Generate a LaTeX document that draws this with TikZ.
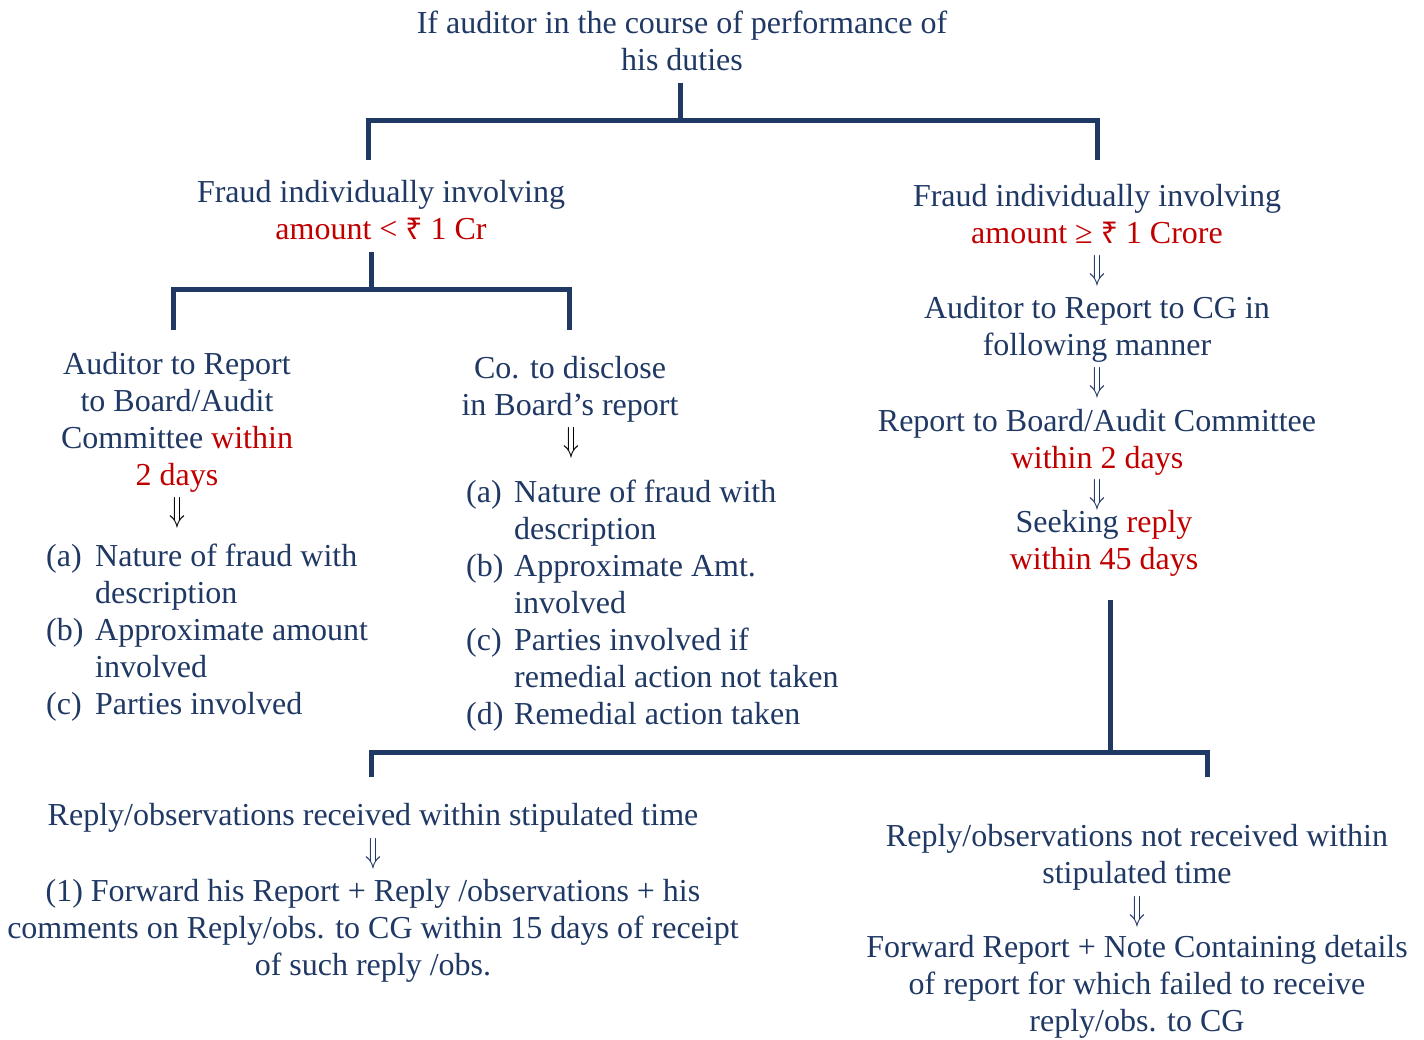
\documentclass[tikz,border=0pt]{standalone}
\usepackage{fontspec}
\setmainfont{Liberation Serif}
\newfontfamily\rupeefont{Noto Sans}
\usepackage{graphicx}
\usepackage{xcolor}
\definecolor{FrNavy}{HTML}{1F3864}
\definecolor{FrRed}{HTML}{C00000}
\newcommand{\redtxt}[1]{\textcolor{FrRed}{#1}}
\newcommand{\rupee}{{\rupeefont\fontsize{30}{37}\selectfont ₹}}
\newcommand{\thendown}{\smash{\raisebox{-11pt}{\scalebox{1.05}[1.4]{$\Downarrow$}}}}
\tikzset{
  textblock/.style={align=center,inner sep=0pt,text=FrNavy,font=\fontsize{32}{37}\selectfont},
  listblock/.style={anchor=north west,inner sep=0pt,text=FrNavy,font=\fontsize{32}{37}\selectfont},
  downsym/.style={inner sep=0pt,text height=10pt,text depth=10pt,text=FrNavy,font=\fontsize{32}{37}\selectfont},
  branch/.style={line width=5pt,draw=FrNavy}
}

\begin{document}
\begin{tikzpicture}[x=1pt,y=-1pt]
\useasboundingbox (0,0) rectangle (1424,1039);
% top level
\node[textblock] (title) at (682,41) {If auditor in the course of performance of\\his duties};
\node[textblock] (fraudlow) at (381,210) {Fraud individually involving\\\redtxt{amount < \rupee\ 1 Cr}};
\node[textblock] (fraudhigh) at (1097,214) {Fraud individually involving\\\redtxt{amount ≥ \rupee\ 1 Crore}};
% right column
\node[downsym] (dr1) at (1097,268) {\thendown};
\node[textblock] (cgreport) at (1097,329) {Auditor to Report to CG in\\following manner};
\node[downsym] (dr2) at (1097,380) {\thendown};
\node[textblock] (boardrep) at (1097,442) {Report to Board/Audit Committee\\\redtxt{within 2 days}};
\node[downsym] (dr3) at (1097,492) {\thendown};
\node[textblock] (seekreply) at (1104,543) {Seeking \redtxt{reply}\\\redtxt{within 45 days}};
% left branch
\node[textblock] (auditrep) at (177,422) {Auditor to Report\\to Board/Audit\\Committee \redtxt{within}\\\redtxt{2 days}};
\node[downsym,text=black] (dl1) at (177,510) {\thendown};
\node[listblock] (auditlist) at (46,540) {\begin{tabular}{@{}p{49pt}@{}l@{}}
(a) & Nature of fraud with\\
    & description\\
(b) & Approximate amount\\
    & involved\\
(c) & Parties involved
\end{tabular}};
\node[textblock] (disclose) at (570,389) {Co. to disclose\\in Board’s report};
\node[downsym,text=black] (dl2) at (571,440) {\thendown};
\node[listblock] (discllist) at (466,476) {\begin{tabular}{@{}p{48pt}@{}l@{}}
(a) & Nature of fraud with\\
    & description\\
(b) & Approximate Amt.\\
    & involved\\
(c) & Parties involved if\\
    & remedial action not taken\\
(d) & Remedial action taken
\end{tabular}};
% bottom
\node[textblock] (recvd) at (373,818) {Reply/observations received within stipulated time};
\node[downsym] (db1) at (373,851) {\thendown};
\node[textblock] (fwdrecvd) at (373,931) {(1) Forward his Report + Reply /observations + his\\comments on Reply/obs. to CG within 15 days of receipt\\of such reply /obs.};
\node[textblock] (notrecvd) at (1137,857) {Reply/observations not received within\\stipulated time};
\node[downsym] (db2) at (1137,909) {\thendown};
\node[textblock] (fwdnot) at (1137,987) {Forward Report + Note Containing details\\of report for which failed to receive\\reply/obs. to CG};
% brackets
\coordinate (tj) at (680,120);
\coordinate (t0) at (680,83);
\coordinate (tl) at (368,160);
\coordinate (tr) at (1097,160);
\draw[branch] (tl) |- (tj) -| (tr);
\draw[branch] (tj) -- (t0);
\coordinate (mj) at (371,289);
\coordinate (m0) at (371,252);
\coordinate (ml) at (173,330);
\coordinate (mr) at (569,330);
\draw[branch] (ml) |- (mj) -| (mr);
\draw[branch] (mj) -- (m0);
\coordinate (bj) at (1110,752);
\coordinate (b0) at (1110,600);
\coordinate (bl) at (371,777);
\coordinate (br) at (1207,777);
\draw[branch] (bl) |- (bj) -| (br);
\draw[branch] (bj) -- (b0);
\end{tikzpicture}
\end{document}
